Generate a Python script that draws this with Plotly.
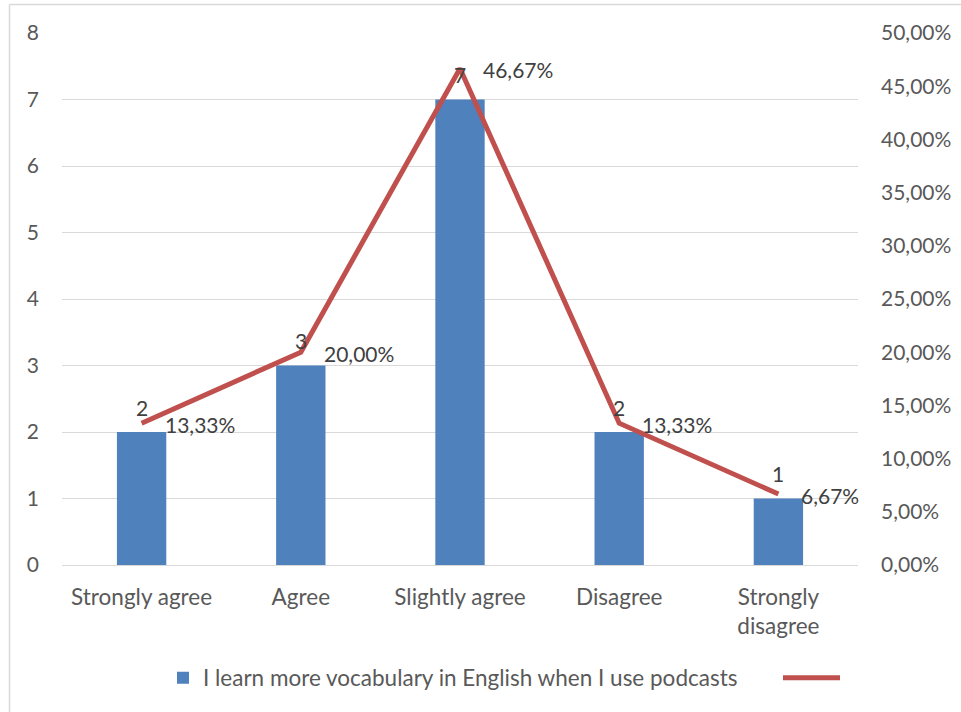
import plotly.graph_objects as go

# Survey responses
categories = ["Strongly agree", "Agree", "Slightly agree", "Disagree", "Strongly<br>disagree"]
counts = [2, 3, 7, 2, 1]
shares = [0.1333, 0.2000, 0.4667, 0.1333, 0.0667]
series_name = "I learn more vocabulary in English when I use podcasts"

BAR_COLOR = "#4F81BD"
LINE_COLOR = "#C0504D"
TEXT_COLOR = "#595959"
LABEL_COLOR = "#404040"
GRID_COLOR = "#D9D9D9"
FONT = "Lato"
FS_NUM = 21
FS_TXT = 22.5

W, H = 961, 712
ML, MR, MT, MB = 62, 103, 33, 147
plot_w = W - ML - MR
plot_h = H - MT - MB


def px_x(px):
    return (px - ML) / plot_w


def px_y(py):
    return (H - MB - py) / plot_h


fig = go.Figure()

fig.add_trace(go.Bar(
    x=categories, y=counts, name=series_name,
    marker=dict(color=BAR_COLOR, line=dict(width=0)),
    width=0.31, yaxis="y", legend="legend", showlegend=True,
))

fig.add_trace(go.Scatter(
    x=categories, y=shares, name=" ", mode="lines",
    line=dict(color=LINE_COLOR, width=5),
    yaxis="y2", legend="legend2", showlegend=True,
))

annotations = []
for c, n in zip(categories, counts):
    annotations.append(dict(
        x=c, y=n, xref="x", yref="y", text=str(n), showarrow=False,
        yanchor="middle", yshift=25,
        font=dict(family=FONT, size=FS_NUM, color=LABEL_COLOR),
    ))
for c, p in zip(categories, shares):
    annotations.append(dict(
        x=c, y=p, xref="x", yref="y2",
        text=f"{p * 100:.2f}".replace(".", ",") + "%", showarrow=False,
        xanchor="left", yanchor="middle", xshift=21, yshift=-1,
        font=dict(family=FONT, size=FS_NUM, color=LABEL_COLOR),
    ))

# light chart-area frame (left and top edges)
frame_x = px_x(9.5)
frame_top = px_y(4.5)
shapes = [
    dict(type="line", xref="paper", yref="paper", x0=frame_x, x1=frame_x,
         y0=frame_top, y1=-2, line=dict(color=GRID_COLOR, width=1.5)),
    dict(type="line", xref="paper", yref="paper", x0=frame_x, x1=2,
         y0=frame_top, y1=frame_top, line=dict(color=GRID_COLOR, width=1.5)),
]

legend_font = dict(family=FONT, size=FS_TXT, color=TEXT_COLOR)

fig.update_layout(
    width=W, height=H, autosize=False, showlegend=True,
    margin=dict(l=ML, r=MR, t=MT, b=MB, pad=0),
    paper_bgcolor="white", plot_bgcolor="white",
    separators=",.",
    font=dict(family=FONT, size=FS_NUM, color=TEXT_COLOR),
    bargap=0.69,
    xaxis=dict(
        type="category", range=[-0.5, len(categories) - 0.5],
        showgrid=False, showline=True, linecolor=GRID_COLOR,
        linewidth=1, ticks="", ticklabelstandoff=12, automargin=False,
        tickfont=dict(family=FONT, size=FS_TXT, color=TEXT_COLOR),
    ),
    yaxis=dict(
        range=[0, 8], dtick=1, tick0=0, showgrid=True, gridcolor=GRID_COLOR,
        gridwidth=1, zeroline=False, showline=False, ticks="",
        ticklabelstandoff=22, automargin=False,
        tickfont=dict(family=FONT, size=FS_NUM, color=TEXT_COLOR),
    ),
    yaxis2=dict(
        range=[0, 0.5], dtick=0.05, tick0=0, tickformat=".2%",
        overlaying="y", side="right", showgrid=False, zeroline=False,
        showline=False, ticks="", ticklabelstandoff=22, automargin=False,
        tickfont=dict(family=FONT, size=FS_NUM, color=TEXT_COLOR),
    ),
    legend=dict(
        visible=True, orientation="h", x=px_x(163), xanchor="left",
        y=px_y(678), yanchor="middle",
        font=legend_font, itemwidth=30, bgcolor="rgba(0,0,0,0)",
    ),
    legend2=dict(
        visible=True, orientation="h", x=px_x(778), xanchor="left",
        y=px_y(678), yanchor="middle",
        font=legend_font, itemwidth=57, bgcolor="rgba(0,0,0,0)",
    ),
    annotations=annotations,
    shapes=shapes,
)

fig.write_html("out.html")
